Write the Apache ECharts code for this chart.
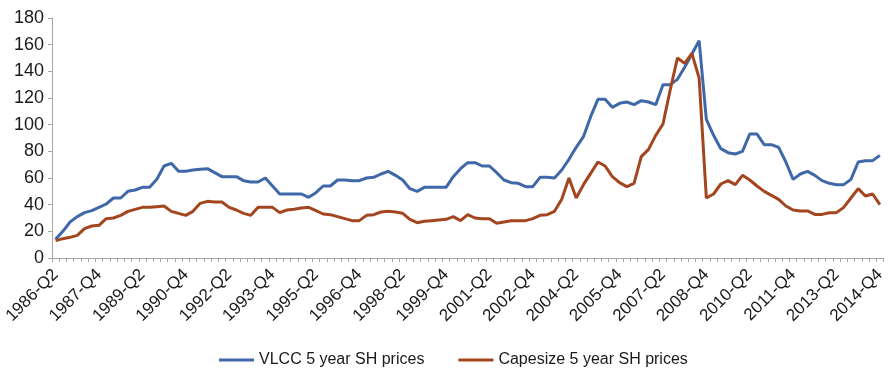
<!DOCTYPE html>
<html>
<head>
<meta charset="utf-8">
<script src="https://cdn.jsdelivr.net/npm/echarts@6/dist/echarts.min.js"></script>
<style>
html, body { margin: 0; padding: 0; background: #fff; }
#chart { width: 888px; height: 368px; }
</style>
</head>
<body>
<div id="chart"></div>
<script>
// quarters 1986-Q2 .. 2014-Q4
var firstYear = 1986, firstQuarter = 2, lastYear = 2014, lastQuarter = 4;
var quarters = [];
for (var y = firstYear; y <= lastYear; y++) {
    for (var q = 1; q <= 4; q++) {
        if (y === firstYear && q < firstQuarter) continue;
        if (y === lastYear && q > lastQuarter) continue;
        quarters.push(y + '-Q' + q);
    }
}

var vlcc = [
    14, 20, 27, 31, 34, 35.5, 38, 40.5, 45, 45,
    50, 51, 53, 53, 59, 69, 71, 65, 65, 66,
    66.5, 67, 64, 61, 61, 61, 58, 57, 57, 60,
    54, 48, 48, 48, 48, 45.5, 49, 54, 54, 58.5,
    58.5, 58, 58, 60, 60.5, 63, 65, 62, 58.5, 52,
    50, 53, 53, 53, 53, 61, 67, 71.5, 71.5, 69,
    69, 64, 58.5, 56.5, 56, 53.5, 53.5, 60.5, 60.5, 60,
    66, 74, 83, 91, 106, 119, 119, 113, 116, 117,
    115, 118, 117, 115, 130, 130, 134, 143, 153, 163,
    104, 92, 82, 79, 78, 80, 93, 93, 85, 85,
    83, 72, 59, 63, 65, 62, 58, 56, 55, 55,
    59, 72, 73, 73, 77
];

var capesize = [
    13, 14.5, 15.5, 17, 22, 24, 24.5, 29.5, 30, 32,
    35, 36.5, 38, 38, 38.5, 39, 35, 33.5, 32, 35,
    41, 42.5, 42, 42, 38, 36, 33.5, 32, 38, 38,
    38, 34, 36, 36.5, 37.5, 38, 35.5, 33, 32.5, 31,
    29.5, 28, 28, 32, 32.5, 34.5, 35, 34.5, 33.5, 29,
    26.5, 27.5, 28, 28.5, 29, 31, 28, 32.5, 30, 29.5,
    29.5, 26, 27, 28, 28, 28, 29.5, 32, 32.5, 35,
    44, 60, 45, 55, 63.5, 72, 69, 61, 56.5, 53.5,
    56, 76, 81.5, 92, 100.5, 126, 150, 146, 153.5, 135,
    45, 48, 55.5, 58, 55, 62, 58.5, 54, 50, 47,
    44, 39, 36, 35.3, 35.3, 32.7, 32.7, 34, 34, 38,
    45, 52, 46.5, 48, 40
];

var seriesNames = ['VLCC 5 year SH prices', 'Capesize 5 year SH prices'];

var myChart = echarts.init(document.getElementById('chart'));
var option = {
    animation: false,
    textStyle: {
        fontFamily: 'Liberation Sans'
    },
    grid: {
        left: 52,
        right: 2,
        top: 18,
        bottom: 110,
        containLabel: false
    },
    legend: {
        left: 214,
        top: 347,
        itemWidth: 35,
        itemHeight: 3,
        itemGap: 34,
        icon: 'rect',
        textStyle: {
            fontSize: 16,
            color: '#1a1a1a',
            fontFamily: 'Liberation Sans'
        },
        data: seriesNames
    },
    xAxis: {
        type: 'category',
        data: quarters,
        boundaryGap: true,
        axisLine: {
            lineStyle: { color: '#a6a6a6', width: 1 }
        },
        axisTick: {
            show: true,
            interval: 0,
            length: 4,
            lineStyle: { color: '#a6a6a6' }
        },
        axisLabel: {
            interval: 5,
            rotate: 45,
            margin: 14,
            fontSize: 17,
            color: '#1a1a1a'
        },
        splitLine: { show: false }
    },
    yAxis: {
        type: 'value',
        min: 0,
        max: 180,
        interval: 20,
        axisLine: {
            show: true,
            lineStyle: { color: '#a6a6a6', width: 1 }
        },
        axisTick: {
            show: true,
            length: 4,
            lineStyle: { color: '#a6a6a6' }
        },
        axisLabel: {
            fontSize: 18,
            margin: 8,
            color: '#1a1a1a'
        },
        splitLine: { show: false }
    },
    series: [
        {
            type: 'line',
            name: seriesNames[0],
            data: vlcc,
            symbol: 'none',
            lineStyle: { color: '#3f68a8', width: 3 },
            itemStyle: { color: '#3f68a8' }
        },
        {
            type: 'line',
            name: seriesNames[1],
            data: capesize,
            symbol: 'none',
            lineStyle: { color: '#a3461f', width: 3 },
            itemStyle: { color: '#a3461f' }
        }
    ]
};
myChart.setOption(option);
</script>
</body>
</html>
